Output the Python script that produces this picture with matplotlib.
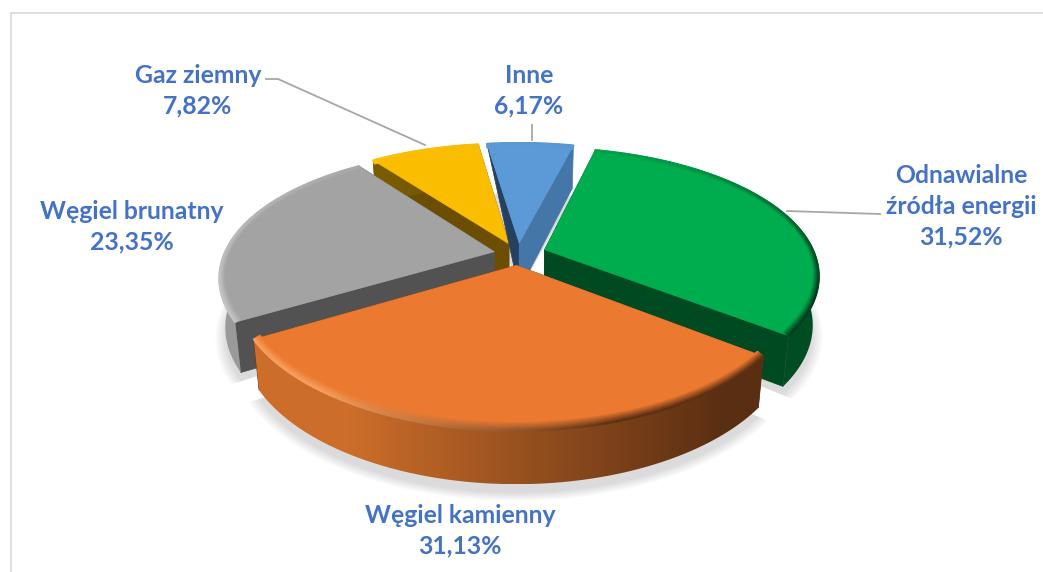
import numpy as np
import matplotlib
matplotlib.use('Agg')
import matplotlib.pyplot as plt
from matplotlib.collections import LineCollection
from matplotlib.colors import to_rgb, LinearSegmentedColormap
from matplotlib.patches import Polygon

# data, clockwise starting from the first slice
names = ['Odnawialne\nźródła energii', 'Węgiel kamienny', 'Węgiel brunatny', 'Gaz ziemny', 'Inne']
values = [31.52, 31.13, 23.35, 7.82, 6.17]

top_colors = ['#00AD4E', '#EB7A30', '#A3A3A3', '#FBBD00', '#5B9AD6']
cut_colors = ['#004A22', '#5E3012', '#525252', '#6B4E00', '#25415F']
cut2_colors = ['#004A22', '#5E3012', '#525252', '#6B4E00', '#4477A8']
wall_left = ['#004D24', '#CC6E2A', '#9A9A9A', '#7A5C00', '#4477A8']
wall_right = ['#004D24', '#5A2E12', '#6A6A6A', '#6B4E00', '#3A6590']
rim_left = ['#00C45A', '#F79E5C', '#C4C4C4', '#FFD24D', '#7FB2E2']
rim_right = ['#00401D', '#5E3012', '#777777', '#B08600', '#4477A8']

label_pos = [(961, 206), (460, 531), (132, 227), (198, 91), (529, 91)]
leaders = [[(787, 211), (880, 214)], None, None,
           [(266, 79), (278, 79), (425, 145)], [(532, 125), (532, 140)]]

# order the slices are painted in, back to front
draw_order = [3, 4, 2, 0, 1]

start_angle = 14.0
explode = [0.105, 0.09, 0.09, 0.09, 0.09]
cx, cy = 518, 254
R, Ry = 270, 125.2
persp = 0.21
persp_x = 0.19
depth = 48


def project(u, v, z=0.0):
    w = 1 / (1 - persp * v)
    wx = 1 / (1 - persp_x * v)
    x = cx + R * u * wx * (1 - 0.02 * z)
    y = cy + Ry * v * w + z * depth * (1 + 0.1 * v)
    return np.column_stack([x, y])


def mix(a, b, t):
    a, b = np.array(to_rgb(a)), np.array(to_rgb(b))
    return tuple(a + (b - a) * t)


def slice_arrays(i, start, sweep):
    mid = np.radians(start + sweep / 2)
    ox, oy = explode[i] * np.sin(mid), -explode[i] * np.cos(mid)
    th = np.radians(np.linspace(start, start + sweep, max(int(sweep * 2), 8)))
    return ox, oy, th


def draw_slice(ax, i, start, sweep, band):
    ox, oy, th = slice_arrays(i, start, sweep)
    u, v = np.sin(th), -np.cos(th)
    au, av = np.array([ox]), np.array([oy])

    top_arc = project(ox + u, oy + v)
    bot_arc = project(ox + u, oy + v, 1)
    apex = project(au, av)
    apex_b = project(au, av, 1)

    # cut faces
    if i == 4:
        # the far left corner of this slice has no visible height
        first_cut = np.vstack([apex, top_arc[:1], apex_b])
    else:
        first_cut = np.vstack([apex, top_arc[:1], bot_arc[:1], apex_b])
    ax.fill(*first_cut.T, color=cut_colors[i], lw=0.5, zorder=band)
    ax.fill(*np.vstack([apex, top_arc[-1:], bot_arc[-1:], apex_b]).T,
            color=cut2_colors[i], lw=0.5, zorder=band)

    # outer wall as a left to right gradient clipped to the wall outline
    wall = np.vstack([top_arc, bot_arc[::-1]])
    x0, x1 = wall[:, 0].min(), wall[:, 0].max()
    y0, y1 = wall[:, 1].min(), wall[:, 1].max()
    if i != 4:
        cmap = LinearSegmentedColormap.from_list('w', [wall_left[i], wall_right[i]])
        im = ax.imshow(np.clip(np.linspace(-0.25, 1.1, 256), 0, 1)[None, :], cmap=cmap, vmin=0, vmax=1,
                       extent=[x0, x1, y1, y0], aspect='auto', zorder=band + 1, interpolation='bilinear')
        clip = Polygon(wall, transform=ax.transData)
        im.set_clip_path(clip)

    # top face
    ax.fill(*np.vstack([apex, top_arc]).T, color=top_colors[i], lw=0.5, zorder=band + 2)

    # bevel along the outer edge, wide at the front and thin at the sides
    rings = np.linspace(0.955, 1.0, 8)
    segs, cols = [], []
    for j, r in enumerate(rings):
        a = project(ox + u * (1 - (1 - r) * 0.4), oy + v * r)
        t = j / (len(rings) - 1)
        for k in range(len(th) - 1):
            edge = mix(rim_left[i], rim_right[i], np.clip((u[k] + 0.6) / 0.9, 0, 1))
            strength = np.clip((v[k] + 1.1) / 1.4, 0.1, 1)
            segs.append([a[k], a[k + 1]])
            cols.append(mix(top_colors[i], edge, t * strength))
    ax.add_collection(LineCollection(segs, colors=cols, linewidths=1.4, capstyle='round', zorder=band + 3))


def draw_shadow(ax, i, start, sweep):
    ox, oy, th = slice_arrays(i, start, sweep)
    u, v = np.sin(th), -np.cos(th)
    for grow in np.linspace(0, 0.035, 6):
        arc = project(ox + u * (1 + grow), oy + v * (1 + grow), 1)
        apex = project(np.array([ox]), np.array([oy]), 1)
        arc = arc + np.array([0, 9])
        ax.fill(*np.vstack([apex, arc]).T, color='#000000', alpha=0.022, lw=0, zorder=0.5)


fig = plt.figure(figsize=(10.43, 5.72), dpi=100)
ax = fig.add_axes([0, 0, 1, 1])
ax.set_xlim(0, 1043)
ax.set_ylim(572, 0)
ax.autoscale(False)
ax.axis('off')

# chart frame
ax.plot([10.5, 10.5], [572, 12.5], color='#D9D9D9', lw=1.2, zorder=0.1)
ax.plot([10.5, 1043], [12.5, 12.5], color='#D9D9D9', lw=1.2, zorder=0.1)

sweeps = [val / sum(values) * 360 for val in values]
starts = [start_angle + sum(sweeps[:i]) for i in range(len(values))]

for i in draw_order:
    draw_shadow(ax, i, starts[i], sweeps[i])

for n, i in enumerate(draw_order):
    draw_slice(ax, i, starts[i], sweeps[i], 10 * (n + 1))

for i, name in enumerate(names):
    if leaders[i]:
        xs, ys = zip(*leaders[i])
        ax.plot(xs, ys, color='#A6A6A6', lw=1.3, zorder=100)
    txt = name + '\n' + f'{values[i]:.2f}'.replace('.', ',') + '%'
    ax.text(label_pos[i][0], label_pos[i][1], txt, ha='center', va='center', ma='center',
            family='Lato', fontweight='bold', fontsize=17.8, color='#4472C4', linespacing=1.41,
            zorder=101)

fig.savefig('out.png', dpi=100)
